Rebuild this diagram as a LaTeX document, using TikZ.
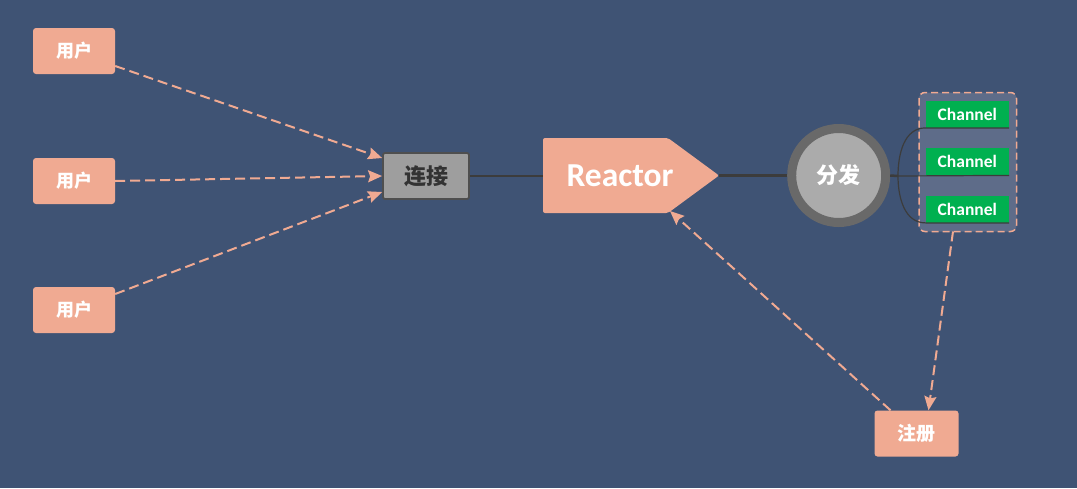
\documentclass[tikz,border=0pt]{standalone}
\usepackage{fontspec}
\setmainfont{Carlito}
\newfontfamily\cjk{Noto Sans CJK SC}
\usetikzlibrary{arrows.meta,calc}
\definecolor{bg}{HTML}{3F5374}
\definecolor{salmon}{HTML}{F0AA92}
\definecolor{connfill}{HTML}{9E9E9E}
\definecolor{connedge}{HTML}{4F4F4F}
\definecolor{darkline}{HTML}{3C3C3C}
\definecolor{ringcol}{HTML}{696969}
\definecolor{disccol}{HTML}{ABABAB}
\definecolor{boxfill}{HTML}{5E6C89}
\definecolor{chgreen}{HTML}{00B050}
\tikzset{
  userbox/.style={fill=salmon, rounded corners=3pt, minimum width=82pt, minimum height=46pt, inner sep=0pt, text=white, font=\cjk\bfseries\fontsize{18}{18}\selectfont},
  connbox/.style={fill=connfill, draw=connedge, line width=1.8pt, rounded corners=2pt, minimum width=86pt, minimum height=46pt, inner sep=0pt, text=black!80, font=\cjk\bfseries\fontsize{22}{22}\selectfont},
  chbox/.style={fill=chgreen, minimum width=83pt, minimum height=27pt, inner sep=0pt, text=white, font=\bfseries\fontsize{17.5}{17.5}\selectfont},
  dasharrow/.style={salmon, line width=2pt, dash pattern=on 10pt off 5pt, -{Stealth[length=14pt,width=12pt,inset=2pt]}},
  thickline/.style={darkline, line width=2.5pt},
  thinline/.style={darkline, line width=1.2pt},
}
\begin{document}
\begin{tikzpicture}[x=1pt,y=-1pt]
\fill[bg] (0,0) rectangle (1077,488);
\useasboundingbox (0,0) rectangle (1077,488);

% users
\node[userbox] (u1) at (74,51) {用户};
\node[userbox] (u2) at (74,181) {用户};
\node[userbox] (u3) at (74,310) {用户};

% connection
\node[connbox] (conn) at (426,176) {连接};

% reactor
\fill[salmon, rounded corners=2pt] (543,138) -- (668,138) -- (719,175.5) -- (668,213) -- (543,213) -- cycle;
\node[text=white, font=\bfseries\fontsize{33.5}{33.5}\selectfont, inner sep=0pt] (reactor) at (620,176) {Reactor};
\coordinate (reactortip) at (719,175.5);
\coordinate (reactorleft) at (543,176);
\coordinate (reactorbot) at (670,211);

% dispatch circle
\node[circle, fill=disccol, draw=ringcol, line width=9pt, minimum size=94pt, inner sep=0pt, text=white, font=\cjk\bfseries\fontsize{22}{22}\selectfont] (disp) at (838.7,175.5) {分发};

% lines between main nodes
\draw[thickline] (conn.east) -- (reactorleft);
\draw[thickline] (reactortip) -- (disp.west);

% channel container
\draw[salmon, fill=boxfill, line width=1.5pt, dash pattern=on 7pt off 4pt, rounded corners=6pt] (919,92.5) rectangle (1016.5,231.5);
\coordinate (contbot) at (953,231.5);

% channels
\node[chbox] (ch1) at (967.3,114.2) {Channel};
\node[chbox] (ch2) at (967.3,161.7) {Channel};
\node[chbox] (ch3) at (967.3,209.2) {Channel};

% bracket lines
\coordinate (brk) at (898,176);
\draw[thickline] (disp.east) -- (brk);
\draw[thinline] (brk) -- (ch2.south east);
\draw[thinline] (ch1.south east) -- (ch1.south west) to[out=180,in=90] (brk) to[out=-90,in=180] (ch3.south west) -- (ch3.south east);

% register
\node[userbox, minimum width=84pt, minimum height=46pt, font=\cjk\bfseries\fontsize{19}{19}\selectfont] (reg) at (916.5,433.5) {注册};

% dashed arrows
\draw[dasharrow] ([yshift=-15pt]u1.east) -- ([yshift=18pt]conn.west);
\draw[dasharrow] (u2.east) -- (conn.west);
\draw[dasharrow] ([yshift=16pt]u3.east) -- ([yshift=-16pt]conn.west);
\draw[dasharrow] (contbot) -- ([xshift=12pt]reg.north);
\draw[dasharrow] ([xshift=-26pt]reg.north) -- (reactorbot);
\end{tikzpicture}
\end{document}
